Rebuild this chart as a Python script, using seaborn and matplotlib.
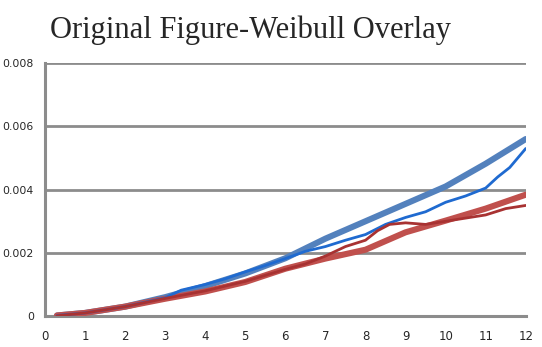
import matplotlib
matplotlib.use("Agg")
import matplotlib.pyplot as plt
import seaborn as sns
import pandas as pd

# Weibull fit (blue)
blue_fit_x = [0.3, 1, 2, 3, 4, 5, 6, 7, 8, 9, 10, 11, 12]
blue_fit_y = [0.00002, 0.0001, 0.0003, 0.0006, 0.00095, 0.00135, 0.00183, 0.00245, 0.0030, 0.00355, 0.0041, 0.00482, 0.0056]
# Original data (blue)
blue_data_x = [0.3, 1, 2, 3, 3.4, 3.6, 4, 4.5, 5, 5.5, 6, 6.5, 7, 7.5, 8, 8.5, 9, 9.5, 10, 10.5, 11, 11.3, 11.6, 11.8, 12]
blue_data_y = [0.00002, 0.0001, 0.0003, 0.00058, 0.00082, 0.00088, 0.001, 0.00118, 0.0014, 0.0016, 0.00182, 0.00205, 0.0022, 0.0024, 0.00258, 0.0029, 0.00312, 0.0033, 0.0036, 0.0038, 0.00405, 0.0044, 0.0047, 0.0050, 0.0053]
# Weibull fit (red)
red_fit_x = [0.3, 1, 2, 3, 4, 5, 6, 7, 8, 9, 10, 11, 12]
red_fit_y = [0.00002, 0.0001, 0.0003, 0.00055, 0.00078, 0.00108, 0.0015, 0.00182, 0.0021, 0.00265, 0.00302, 0.0034, 0.00384]
# Original data (red)
red_data_x = [0.3, 1, 2, 3, 4, 5, 6, 6.5, 7, 7.5, 8, 8.3, 8.6, 9, 9.5, 10, 10.5, 11, 11.5, 12]
red_data_y = [0.00001, 0.0001, 0.0003, 0.00056, 0.0008, 0.0011, 0.00148, 0.00165, 0.0019, 0.0022, 0.0024, 0.0027, 0.0029, 0.00295, 0.0029, 0.0030, 0.0031, 0.0032, 0.0034, 0.0035]

x_ticks = list(range(0, 13))
y_ticks = [0, 0.002, 0.004, 0.006, 0.008]
y_tick_labels = ["0", "0.002", "0.004", "0.006", "0.008"]
title = "Original Figure-Weibull Overlay"

sns.set_style("white")
fig = plt.figure(figsize=(5.42, 3.47), dpi=100)
ax = fig.add_axes([0.083, 0.089, 0.887, 0.729])

grid_c = "#8c8c8c"
for yv in y_ticks[1:]:
    ax.axhline(yv, color=grid_c, lw=2.0, zorder=1)

sns.lineplot(x=blue_fit_x, y=blue_fit_y, ax=ax, color="#5381bd", lw=4.4, zorder=2)
sns.lineplot(x=red_fit_x, y=red_fit_y, ax=ax, color="#c0504d", lw=4.4, zorder=3)
sns.lineplot(x=blue_data_x, y=blue_data_y, ax=ax, color="#1f6ad0", lw=2.0, zorder=4)
sns.lineplot(x=red_data_x, y=red_data_y, ax=ax, color="#a83232", lw=2.0, zorder=5)

ax.set_xlim(0, 12)
ax.set_ylim(0, 0.008)
ax.set_xticks(x_ticks)
ax.set_xticklabels([str(t) for t in x_ticks], fontsize=8.5, family="DejaVu Sans")
ax.set_yticks(y_ticks)
ax.set_yticklabels(y_tick_labels, fontsize=7.8, family="DejaVu Sans")
ax.tick_params(axis="x", length=4, width=2, color=grid_c, pad=6, direction="out")
ax.tick_params(axis="y", length=3, width=1.5, color=grid_c, pad=5, direction="out")
for s in ["top", "right"]:
    ax.spines[s].set_visible(False)
for s in ["left", "bottom"]:
    ax.spines[s].set_color(grid_c)
    ax.spines[s].set_linewidth(2.2)
ax.set_xlabel("")
ax.set_ylabel("")
ax.patch.set_alpha(0)

fig.text(250 / 542, 1 - 30 / 347, title, ha="center", va="center",
         fontsize=22, family="Liberation Serif")

fig.savefig("out.png", dpi=100)
